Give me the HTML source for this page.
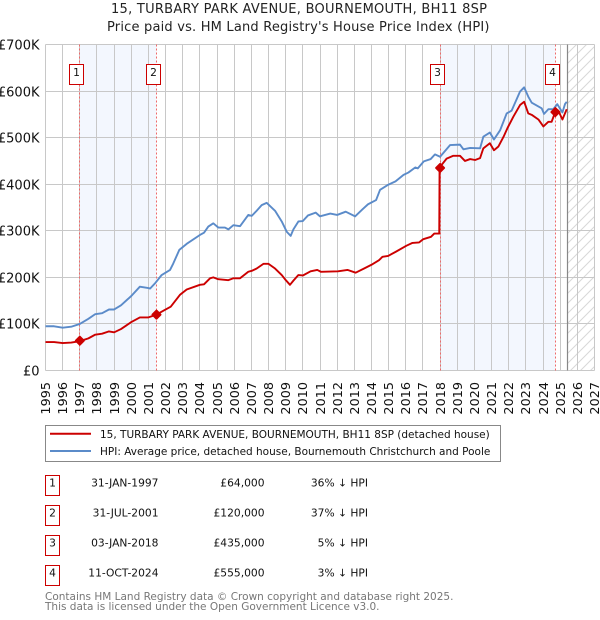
<!DOCTYPE html>
<html lang="en">
<head>
<meta charset="utf-8">
<title>15, Turbary Park Avenue price chart</title>
<style>
html,body{margin:0;padding:0;background:#fff;}
svg{display:block;font-family:"DejaVu Sans",sans-serif;}
</style>
</head>
<body>
<svg id="chart" xmlns="http://www.w3.org/2000/svg" width="600" height="620" viewBox="0 0 600 620">
<defs>
<pattern id="hatch" patternUnits="userSpaceOnUse" width="10" height="10" patternTransform="translate(567 4)">
<path d="M-2 12 L12 -2 M-2 2 L2 -2 M8 12 L12 8" stroke="#d8d8d8" stroke-width="1" fill="none"/>
</pattern>
</defs>
<text x="111" y="13" font-size="13" textLength="376" lengthAdjust="spacing" fill="#222">15, TURBARY PARK AVENUE, BOURNEMOUTH, BH11 8SP</text>
<text x="107" y="31" font-size="13" textLength="382.5" lengthAdjust="spacing" fill="#222">Price paid vs. HM Land Registry's House Price Index (HPI)</text>
<g id="plot"></g>
<g>
<rect x="45.5" y="425.5" width="455" height="36" fill="#fff" stroke="#888" stroke-width="1"/>
<line x1="50" x2="91" y1="433.7" y2="433.7" stroke="#cc0000" stroke-width="2"/>
<text x="100" y="438" font-size="10.5" fill="#111">15, TURBARY PARK AVENUE, BOURNEMOUTH, BH11 8SP (detached house)</text>
<line x1="50" x2="91" y1="451" y2="451" stroke="#5b8bc9" stroke-width="2"/>
<text x="100" y="455" font-size="10.5" fill="#111">HPI: Average price, detached house, Bournemouth Christchurch and Poole</text>
</g>
<g id="table"></g>
<text x="45" y="600" font-size="10.5" fill="#777">Contains HM Land Registry data © Crown copyright and database right 2025.</text>
<text x="45" y="610" font-size="10.5" fill="#777">This data is licensed under the Open Government Licence v3.0.</text>
</svg>
<script>
var hpiYears = [1995,1995.5,1996,1996.5,1997,1997.5,1997.9,1998.3,1998.7,1999,1999.4,2000,2000.5,2001,2001.1,2001.38,2001.77,2002.26,2002.45,2002.8,2003.23,2004,2004.24,2004.49,2004.78,2005.07,2005.46,2005.66,2005.95,2006.34,2006.82,2007.02,2007.31,2007.6,2007.89,2008.38,2008.77,2009.06,2009.29,2009.45,2009.74,2010,2010.3,2010.75,2011,2011.6,2012,2012.5,2013.05,2013.5,2013.8,2014.27,2014.5,2014.93,2015.4,2015.87,2016.15,2016.55,2016.7,2017.05,2017.45,2017.7,2018,2018.58,2019.16,2019.36,2019.75,2020.33,2020.52,2020.9,2021.14,2021.5,2021.88,2022.17,2022.66,2022.9,2023.14,2023.34,2023.92,2024.06,2024.31,2024.6,2024.83,2025.13,2025.28,2025.38];
var hpiValues = [95,95,92,94,100,111,121,123,131,131,140,160,180,177,176,187,205,216,230,259,272,291,296,309,316,307,307,303,312,310,334,332,343,355,360,343,320,298,289,303,320,321,333,339,331,337,334,341,331,347,357,366,388,398,406,420,425,436,434,449,454,464,459,484,485,475,478,477,502,511,496,516,552,558,599,608,588,575,563,551,561,561,572,554,572,577];
var priceYears = [1995,1995.5,1996,1996.5,1997,1997.5,1997.9,1998.3,1998.7,1999,1999.4,2000,2000.5,2001,2001.47,2001.9,2002.3,2002.85,2003.23,2004,2004.24,2004.59,2004.78,2005.07,2005.66,2005.95,2006.34,2006.82,2007.02,2007.31,2007.7,2008,2008.38,2008.77,2008.96,2009.25,2009.45,2009.74,2010,2010.45,2010.84,2011.05,2012.05,2012.6,2013.08,2013.57,2014,2014.44,2014.64,2014.97,2015.42,2016.04,2016.39,2016.78,2017.02,2017.47,2017.66,2017.95,2017.97,2018.38,2018.77,2019.16,2019.45,2019.75,2020.04,2020.33,2020.52,2020.9,2021.14,2021.4,2021.7,2021.92,2022.27,2022.66,2022.9,2023.14,2023.34,2023.73,2024.02,2024.31,2024.5,2024.7,2024.89,2025.13,2025.38];
var priceValues = [61,61,59,60,63,69,77,79,84,82,89,104,114,114,120,129,137,163,174,184,185,198,200,196,194,198,198,212,214,219,229,229,219,205,196,184,193,205,204,213,216,212,213,216,210,219,227,237,244,246,255,268,274,275,282,287,294,294,436,455,461,461,450,454,452,456,477,488,473,481,502,520,545,570,577,552,549,539,524,534,534,554,558,539,561];
var yTickValues = [0,100,200,300,400,500,600,700];
var yTickLabels = ["£0","£100K","£200K","£300K","£400K","£500K","£600K","£700K"];
var xTickYears = [1995,1996,1997,1998,1999,2000,2001,2002,2003,2004,2005,2006,2007,2008,2009,2010,2011,2012,2013,2014,2015,2016,2017,2018,2019,2020,2021,2022,2023,2024,2025,2026,2027];
var saleIds = ["1","2","3","4"];
var saleYears = [1997,2001.47,2018,2024.72];
var salePrices = [64,120,435,555];
var saleDates = ["31-JAN-1997","31-JUL-2001","03-JAN-2018","11-OCT-2024"];
var salePriceLabels = ["£64,000","£120,000","£435,000","£555,000"];
var saleHpiLabels = ["36% ↓ HPI","37% ↓ HPI","5% ↓ HPI","3% ↓ HPI"];
var forecastStartYear = 2025.41;

var NS = "http://www.w3.org/2000/svg";
var plot = document.getElementById("plot");
var table = document.getElementById("table");
function xScale(y){ return 45.5 + (y - 1995) * (549 / 32); }
function yScale(v){ return 370.5 - v * (326 / 700); }
function make(parent, tag, attrs, text){
  var el = document.createElementNS(NS, tag);
  for (var k in attrs) el.setAttribute(k, attrs[k]);
  if (text !== undefined) el.textContent = text;
  parent.appendChild(el);
  return el;
}
function linePath(xs, ys){
  var d = "";
  for (var i = 0; i < xs.length; i++) d += (i ? "L" : "M") + xScale(xs[i]).toFixed(2) + " " + yScale(ys[i]).toFixed(2);
  return d;
}
var el;
// shaded sale bands
for (var b = 0; b + 1 < saleYears.length; b += 2) {
  el = make(plot, "rect", {x: xScale(saleYears[b]), y: yScale(700), width: xScale(saleYears[b+1]) - xScale(saleYears[b]), height: yScale(0) - yScale(700), fill: "#f3f7fe"});
  
  
}
// hatched no-data area
el = make(plot, "rect", {x: xScale(forecastStartYear), y: yScale(700), width: xScale(2027) - xScale(forecastStartYear), height: yScale(0) - yScale(700), fill: "url(#hatch)"});


// grid and ticks
xTickYears.forEach(function(yr){
  var x = Math.floor(xScale(yr)) + 0.5;
  var g = make(plot, "line", {x1: x, x2: x, y1: 44.5, y2: 370.5, stroke: "#c8c8c8", "stroke-width": 1});
  
  
  var t = make(plot, "text", {x: 0, y: 0, "font-size": 12.8, fill: "#111", "text-anchor": "end", transform: "translate(" + (x + 4.5) + " 382) rotate(-90)"}, String(yr));
  
  
});
yTickValues.forEach(function(v, i){
  var y = Math.floor(yScale(v)) + 0.5;
  var g = make(plot, "line", {x1: 45.5, x2: 594.5, y1: y, y2: y, stroke: "#c8c8c8", "stroke-width": 1});
  
  
  var t = make(plot, "text", {x: 39.5, y: y + 5, "font-size": 13, fill: "#111", "text-anchor": "end"}, yTickLabels[i]);
  
  
});
// last data line
el = make(plot, "line", {x1: Math.floor(xScale(forecastStartYear)) + 0.5, x2: Math.floor(xScale(forecastStartYear)) + 0.5, y1: yScale(700), y2: yScale(0), stroke: "#888", "stroke-width": 1.2});


// sale dashed lines
saleYears.forEach(function(yr){
  var lx = Math.floor(xScale(yr)) + 0.5;
  var s = make(plot, "line", {x1: lx, x2: lx, y1: yScale(700), y2: yScale(0), stroke: "#ee6a6a", "stroke-width": 1, "stroke-dasharray": "2 2"});
  
  
});
// series
el = make(plot, "path", {d: linePath(hpiYears, hpiValues), fill: "none", stroke: "#5b8bc9", "stroke-width": 1.9, "stroke-linejoin": "round"});


el = make(plot, "path", {d: linePath(priceYears, priceValues), fill: "none", stroke: "#cc0000", "stroke-width": 1.9, "stroke-linejoin": "round"});


// sale points and number boxes
saleYears.forEach(function(yr, i){
  var cx = xScale(yr), cy = yScale(salePrices[i]), r = 4;
  var p = make(plot, "polygon", {points: [cx, cy - r, cx + r, cy, cx, cy + r, cx - r, cy].join(" "), fill: "#cc0000", stroke: "#cc0000", "stroke-width": 2, "stroke-linejoin": "round"});
  
  
  var bx = Math.floor(cx) - 9.5;
  var rr = make(plot, "rect", {x: bx, y: 64.5, width: 14, height: 20, fill: "#fff", stroke: "#cc0000", "stroke-width": 1});
  
  
  var tt = make(plot, "text", {x: bx + 7, y: 76, "font-size": 10.7, "text-anchor": "middle", fill: "#111"}, saleIds[i]);
  
  
});
// table rows
saleIds.forEach(function(id, i){
  var top = 475.5 + i * 30;
  var r = make(table, "rect", {x: 45.5, y: top, width: 14, height: 20, fill: "#fff", stroke: "#cc0000", "stroke-width": 1});
  
  
  var n = make(table, "text", {x: 52.5, y: top + 11, "font-size": 10.7, "text-anchor": "middle", fill: "#111"}, id);
  
  
  var d = make(table, "text", {x: 158.5, y: top + 11, "font-size": 10.7, "text-anchor": "end", fill: "#111"}, saleDates[i]);
  
  
  var pr = make(table, "text", {x: 264.5, y: top + 11, "font-size": 10.7, "text-anchor": "end", fill: "#111"}, salePriceLabels[i]);
  
  
  var h = make(table, "text", {x: 368, y: top + 11, "font-size": 10.7, "text-anchor": "end", fill: "#111"}, saleHpiLabels[i]);
  
  
});
</script>
</body>
</html>
